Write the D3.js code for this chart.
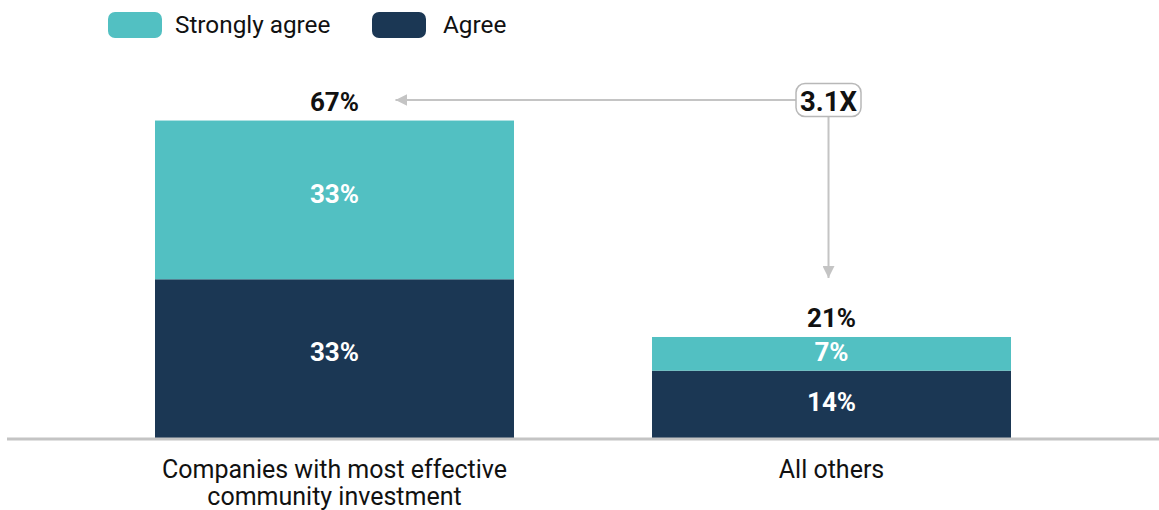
<!DOCTYPE html>
<html>
<head>
<meta charset="utf-8">
<script src="https://cdn.jsdelivr.net/npm/d3@7"></script>
<style>
  html, body { margin: 0; padding: 0; background: #fff; }
  svg { display: block; font-family: Roboto, "Noto Sans", sans-serif; }
</style>
</head>
<body>
<svg id="chart" width="1159" height="510"></svg>
<script>
// Survey responses by company group
const categories = ["Companies with most effective\ncommunity investment", "All others"];
const seriesNames = ["Agree", "Strongly agree"];
const agree = [33, 14];
const stronglyAgree = [33, 7];
const totals = [67, 21];
const multiplierLabel = "3.1X";
const colors = { "Strongly agree": "#52c0c2", "Agree": "#1b3754" };

const svg = d3.select("#chart");
const width = 1159;
const baseY = 438;

const x = d3.scaleBand()
  .domain(categories)
  .range([155, 1011])
  .paddingInner(0.2777)
  .paddingOuter(0);

const y = d3.scaleLinear()
  .domain([0, 70])
  .range([baseY, baseY - 70 * 4.81]);

const rows = categories.map((c, i) => ({ cat: c, "Agree": agree[i], "Strongly agree": stronglyAgree[i], total: totals[i] }));
const stacked = d3.stack().keys(seriesNames)(rows);
const cx = c => x(c) + x.bandwidth() / 2;

// stacked bars
const layers = svg.append("g").selectAll("g")
  .data(stacked)
  .join("g")
  .attr("fill", d => colors[d.key]);

layers.selectAll("rect")
  .data(d => d)
  .join("rect")
  .attr("x", d => x(d.data.cat))
  .attr("width", x.bandwidth())
  .attr("y", d => y(d[1]))
  .attr("height", d => y(d[0]) - y(d[1]));

// segment labels
layers.selectAll("text")
  .data(d => d.map(v => ({ v, key: d.key })))
  .join("text")
  .attr("x", d => cx(d.v.data.cat))
  .attr("y", d => {
    const top = y(d.v[1]), bot = y(d.v[0]);
    return (top + bot) / 2 - 0.04 * (bot - top) + 9;
  })
  .attr("text-anchor", "middle")
  .attr("fill", "#fff")
  .attr("font-weight", 700)
  .attr("font-size", 26)
  .text(d => d.v.data[d.key] + "%");

// totals above bars
svg.append("g").selectAll("text")
  .data(rows)
  .join("text")
  .attr("x", d => cx(d.cat))
  .attr("y", d => y(d["Agree"] + d["Strongly agree"]) - 10)
  .attr("text-anchor", "middle")
  .attr("fill", "#111")
  .attr("font-weight", 700)
  .attr("font-size", 26)
  .text(d => d.total + "%");

// baseline
svg.append("line")
  .attr("x1", 7).attr("x2", width)
  .attr("y1", baseY + 1).attr("y2", baseY + 1)
  .attr("stroke", "#c4c4c4")
  .attr("stroke-width", 3);

// category labels
const catText = svg.append("g").selectAll("text")
  .data(categories)
  .join("text")
  .attr("transform", d => `translate(${cx(d)},478)`)
  .attr("text-anchor", "middle")
  .attr("fill", "#111")
  .attr("font-size", 25);
catText.selectAll("tspan")
  .data(d => d.split("\n").map((t, i) => ({ t, i })))
  .join("tspan")
  .attr("x", 0)
  .attr("dy", d => d.i === 0 ? 0 : 27)
  .text(d => d.t);

// legend
const legendItems = [
  { key: "Strongly agree", x: 108 },
  { key: "Agree", x: 372 }
];
const legend = svg.append("g").selectAll("g")
  .data(legendItems)
  .join("g")
  .attr("transform", d => `translate(${d.x},12)`);
legend.append("rect")
  .attr("width", 54).attr("height", 26)
  .attr("rx", 7)
  .attr("fill", d => colors[d.key]);
legend.append("text")
  .attr("x", d => d.key === "Agree" ? 71 : 67)
  .attr("y", 21)
  .attr("font-size", 24.3)
  .attr("fill", "#111")
  .text(d => d.key);

// multiplier annotation
const defs = svg.append("defs");
defs.append("marker")
  .attr("id", "arrowhead")
  .attr("viewBox", "0 0 10 10")
  .attr("refX", 10).attr("refY", 5)
  .attr("markerWidth", 6).attr("markerHeight", 6)
  .attr("markerUnits", "strokeWidth")
  .attr("orient", "auto")
  .append("path")
  .attr("d", "M0,0 L10,5 L0,10 Z")
  .attr("fill", "#c4c4c4");

const boxCx = cx(categories[1]) - 3;
const boxW = 65, boxH = 33;
const boxCy = 100;
const arrowY = 100;
const leftTip = cx(categories[0]) + 61;

svg.append("line")
  .attr("x1", boxCx - boxW / 2).attr("y1", arrowY)
  .attr("x2", leftTip).attr("y2", arrowY)
  .attr("stroke", "#c4c4c4").attr("stroke-width", 2)
  .attr("marker-end", "url(#arrowhead)");

svg.append("line")
  .attr("x1", boxCx).attr("y1", boxCy + boxH / 2)
  .attr("x2", boxCx).attr("y2", y(totals[1]) - 59)
  .attr("stroke", "#c4c4c4").attr("stroke-width", 2)
  .attr("marker-end", "url(#arrowhead)");

svg.append("rect")
  .attr("x", boxCx - boxW / 2).attr("y", boxCy - boxH / 2)
  .attr("width", boxW).attr("height", boxH)
  .attr("rx", 9)
  .attr("fill", "#fff")
  .attr("stroke", "#b8b8b8").attr("stroke-width", 1.5);

svg.append("text")
  .attr("x", boxCx).attr("y", boxCy + 10.5)
  .attr("text-anchor", "middle")
  .attr("font-weight", 700)
  .attr("font-size", 27.5)
  .attr("fill", "#111")
  .text(multiplierLabel);
</script>
</body>
</html>
